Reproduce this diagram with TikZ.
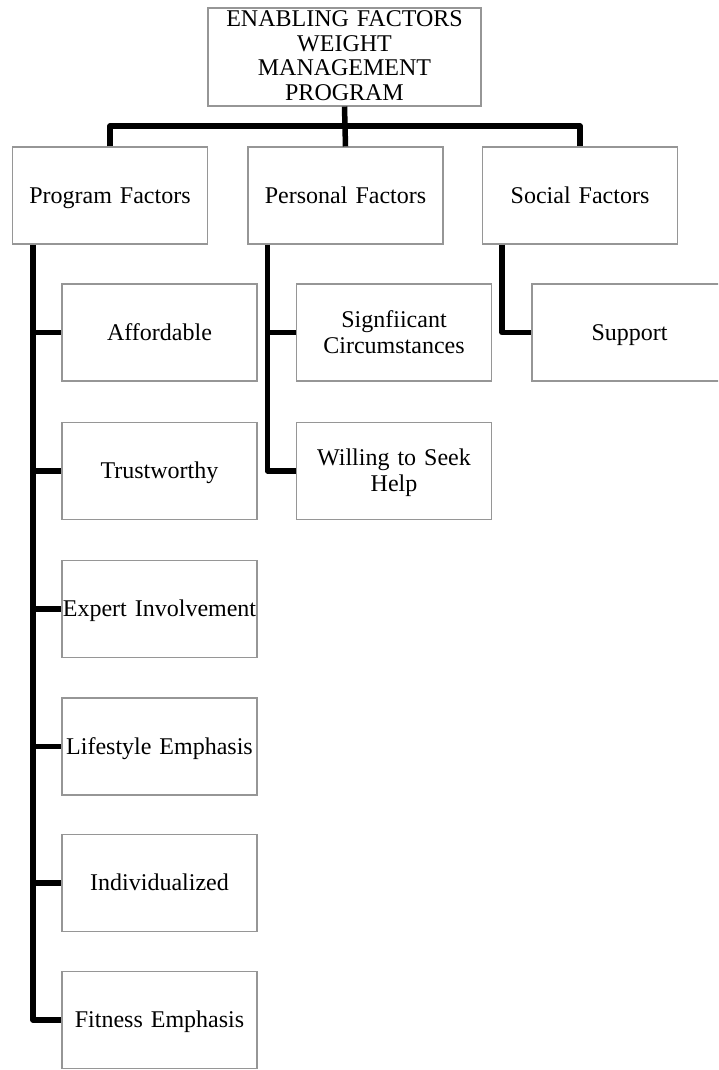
\documentclass[tikz,border=0pt]{standalone}
\usepackage{fontspec}
\setmainfont{Liberation Serif}
\usetikzlibrary{calc}
\definecolor{boxline}{RGB}{150,150,150}
\begin{document}
\begin{tikzpicture}[x=1pt,y=-1pt,
  basebox/.style={draw=boxline,line width=1.1pt,fill=white,inner sep=0pt,align=center},
  % struts fix the first-line height and last-line depth so labels centre alike
  factorbox/.style={basebox,minimum width=195pt,minimum height=97pt,text width=195pt,
    font=\fontsize{24}{26}\selectfont,
    execute at begin node=\rule[-7pt]{0pt}{29pt},
    execute at end node=\rule[-7pt]{0pt}{7pt}},
  headbox/.style={basebox,minimum width=273pt,minimum height=98pt,text width=273pt,
    font=\fontsize{24}{24.5}\selectfont,
    execute at begin node=\rule[-5.5pt]{0pt}{24.5pt},
    execute at end node=\rule[-5.5pt]{0pt}{5.5pt}},
  conn/.style={line width=5.5pt,draw=black,line join=round}]
\useasboundingbox (0,0) rectangle (718,1070);
\fill[white] (0,0) rectangle (718,1070);
\clip (0,0) rectangle (718,1070);

% root
\node[headbox] (root) at (344.5,57) {ENABLING FACTORS\\WEIGHT\\MANAGEMENT\\PROGRAM};

% first level
\node[factorbox] (prog) at (110,195.5) {Program Factors};
\node[factorbox] (pers) at (345.5,195.5) {Personal Factors};
\node[factorbox] (soc)  at (580,195.5) {Social Factors};

% program factors
\node[factorbox] (aff) at (159.5,332.5) {Affordable};
\node[factorbox] (trust) at (159.5,471) {Trustworthy};
\node[factorbox] (expert) at (159.5,609) {Expert Involvement};
\node[factorbox] (life) at (159.5,746.5) {Lifestyle Emphasis};
\node[factorbox] (indiv) at (159.5,883) {Individualized};
\node[factorbox] (fit) at (159.5,1020) {Fitness Emphasis};

% personal factors
\node[factorbox] (signif) at (394,332.5) {Signfiicant\\Circumstances};
\node[factorbox] (seek) at (394,471) {Willing to Seek\\Help};

% social factors
\node[factorbox] (supp) at (629.5,332.5) {Support};

% root to first level
\draw[conn] (root.south) -- (pers.north);
\draw[conn] (prog.north) -- ++(0,-20.5) -| (soc.north);

% trunks below the first level
\coordinate (progtrunk) at ($(prog.south west)+(21,0)$);
\coordinate (perstrunk) at ($(pers.south west)+(20,0)$);
\coordinate (soctrunk)  at ($(soc.south west)+(20,0)$);

\draw[conn] (progtrunk) |- (fit.west);
\foreach \n in {aff,trust,expert,life,indiv}
  \draw[conn] (progtrunk |- \n.west) -- (\n.west);

\draw[conn] (perstrunk) |- (seek.west);
\draw[conn] (perstrunk |- signif.west) -- (signif.west);

\draw[conn] (soctrunk) |- (supp.west);
\end{tikzpicture}
\end{document}
